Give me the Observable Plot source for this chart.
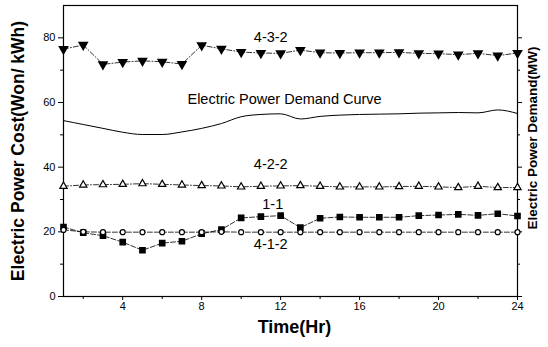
<!DOCTYPE html>
<html>
<head>
<meta charset="utf-8">
<script src="https://cdn.jsdelivr.net/npm/d3@7"></script>
<script src="https://cdn.jsdelivr.net/npm/@observablehq/plot@0.6"></script>
<style>
  html, body { margin: 0; padding: 0; background: #fff; }
  #chart svg { display: block; }
</style>
</head>
<body>
<div id="chart"></div>
<script>
const hours = d3.range(1, 25);
const s432 = [76.5, 77.8, 71.8, 72.5, 72.9, 72.6, 71.9, 77.7, 76.6, 75.6, 75.3, 75.2, 76.2, 75.4, 75.3, 75.4, 75.4, 75.5, 75.2, 75.1, 74.8, 75.2, 74.5, 75.3];
const demand = [54.4, 53.2, 52.0, 50.8, 50.1, 50.1, 50.9, 52.0, 53.5, 55.6, 56.3, 56.5, 54.9, 55.7, 56.1, 56.3, 56.4, 56.5, 56.7, 56.8, 56.9, 56.8, 57.7, 56.6];
const s422 = [34.1, 34.5, 34.6, 34.7, 34.9, 34.7, 34.5, 34.3, 34.2, 33.9, 34.1, 34.2, 34.3, 34.1, 33.9, 33.9, 33.9, 34.0, 34.1, 33.9, 33.7, 34.1, 33.7, 33.7];
const s11 = [21.5, 19.7, 18.8, 16.8, 14.3, 16.5, 17.1, 19.4, 20.7, 24.3, 24.7, 25.0, 21.3, 24.2, 24.6, 24.5, 24.5, 24.5, 25.0, 25.2, 25.4, 25.1, 25.6, 24.9];
const s412 = [20.6, 20.0, 19.9, 19.9, 19.9, 19.9, 19.9, 19.9, 20.0, 19.9, 19.9, 19.9, 19.9, 19.9, 19.9, 19.9, 19.9, 19.9, 19.9, 19.9, 19.9, 19.9, 19.9, 19.9];
const yTicks = [0, 20, 40, 60, 80];
const yMinor = [10, 30, 50, 70];
const xTicks = [4, 8, 12, 16, 20, 24];
const xMinor = [2, 6, 10, 14, 18, 22];

const rows = (arr) => hours.map((h, i) => ({h, v: arr[i]}));
const d432 = rows(s432), dDem = rows(demand), d422 = rows(s422), d11 = rows(s11), d412 = rows(s412);

const labels = [
  {text: "4-3-2", h: 11.5, series: s432, dy: -16},
  {text: "Electric Power Demand Curve", h: 12.2, series: demand, dy: -14},
  {text: "4-2-2", h: 11.5, series: s422, dy: -22},
  {text: "1-1", h: 11.6, series: s11, dy: -11},
  {text: "4-1-2", h: 11.5, series: s412, dy: 12}
].map(d => ({...d, v: d.series[Math.round(d.h) - 1]}));

const dash = "5,2,1,2";
const chart = Plot.plot({
  width: 548,
  height: 347,
  marginLeft: 63,
  marginRight: 31,
  marginTop: 5,
  marginBottom: 51,
  style: {fontFamily: "'Liberation Sans', Arial, sans-serif", fontSize: "11px", color: "#000", background: "#fff"},
  x: {domain: [1, 24]},
  y: {domain: [0, 90]},
  marks: [
    Plot.frame({stroke: "#000", strokeWidth: 1.2}),
    Plot.axisY({ticks: yTicks, tickSize: 5, tickPadding: 3, label: null, fontSize: 11}),
    Plot.axisY({ticks: yMinor, tickSize: 3, tickFormat: () => "", label: null}),
    Plot.axisY({anchor: "right", ticks: yTicks, tickSize: 4, tickFormat: () => "", label: null}),
    Plot.axisY({anchor: "right", ticks: yMinor, tickSize: 2, tickFormat: () => "", label: null}),
    Plot.axisX({ticks: xTicks, tickSize: 4, tickPadding: 2, label: null, fontSize: 11}),
    Plot.axisX({ticks: xMinor, tickSize: 3, tickFormat: () => "", label: null}),
    Plot.line(d432, {x: "h", y: "v", stroke: "#000", strokeWidth: 0.8, strokeDasharray: dash}),
    Plot.line(dDem, {x: "h", y: "v", stroke: "#000", strokeWidth: 1, curve: "monotone-x"}),
    Plot.line(d422, {x: "h", y: "v", stroke: "#000", strokeWidth: 0.8, strokeDasharray: dash}),
    Plot.line(d11, {x: "h", y: "v", stroke: "#000", strokeWidth: 0.8, strokeDasharray: "5,2"}),
    Plot.line(d412, {x: "h", y: "v", stroke: "#000", strokeWidth: 0.8, strokeDasharray: "5,2"}),
    Plot.dot(d432, {x: "h", y: "v", symbol: "triangle", rotate: 180, r: 3, fill: "#000", stroke: "#000"}),
    Plot.dot(d422, {x: "h", y: "v", symbol: "triangle", r: 2.7, fill: "#fff", stroke: "#000", strokeWidth: 1.2}),
    Plot.dot(d11, {x: "h", y: "v", symbol: "square", r: 2.9, fill: "#000", stroke: "#000"}),
    Plot.dot(d412, {x: "h", y: "v", symbol: "circle", r: 2.5, fill: "#fff", stroke: "#000", strokeWidth: 1.2}),
    ...labels.map(l => Plot.text([l], {x: "h", y: "v", text: "text", dy: l.dy, fontSize: 14.5, fill: "#000"})),
    Plot.text(["Electric Power Cost(Won/ kWh)"], {frameAnchor: "left", textAnchor: "middle", dx: -45, dy: 0, rotate: -90, text: d => d, fontSize: 17.5, fontWeight: "bold", fill: "#000"}),
    Plot.text(["Electric Power Demand(MW)"], {frameAnchor: "right", textAnchor: "middle", dx: 15, dy: -13, rotate: -90, text: d => d, fontSize: 13.5, fontWeight: "bold", fill: "#000"}),
    Plot.text(["Time(Hr)"], {frameAnchor: "bottom", dx: 4, dy: 36, text: d => d, fontSize: 18, fontWeight: "bold", fill: "#000"})
  ]
});
document.getElementById("chart").appendChild(chart);
</script>
</body>
</html>
